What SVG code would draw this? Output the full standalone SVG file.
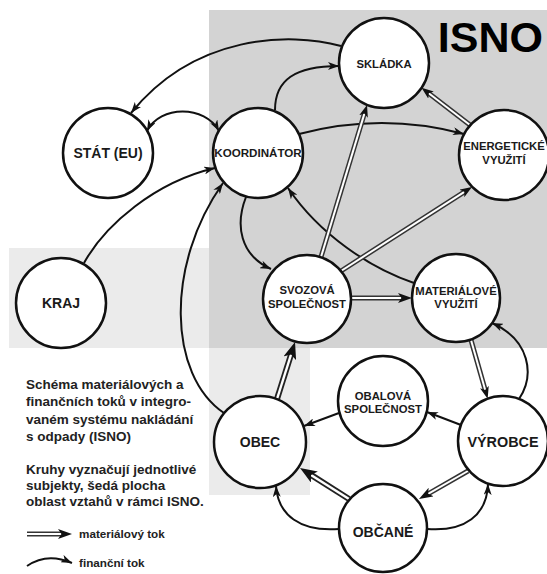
<svg xmlns="http://www.w3.org/2000/svg" width="547" height="574" viewBox="0 0 547 574">
<style>
.node circle{fill:#fff;stroke:#111;stroke-width:2.5}
.lbl{font-family:"Liberation Sans",Arial,sans-serif;font-weight:bold;fill:#1a1a1a;text-anchor:middle}
.s11{font-size:11.3px}
.s14{font-size:14px}
.fin{fill:none;stroke:#111;stroke-width:2;marker-end:url(#fa)}
.fin2{fill:none;stroke:#111;stroke-width:2;marker-start:url(#fa);marker-end:url(#fa)}
.mo{fill:none;stroke:#333;stroke-width:5}
.mob{fill:none;stroke:#222;stroke-width:6}
.mi{fill:none;stroke:#fff;stroke-width:2}
.mib{fill:none;stroke:#fff;stroke-width:2.4}
.leg{font-family:"Liberation Sans",Arial,sans-serif;font-weight:bold;fill:#222}
.p{font-size:13.5px}
.l{font-size:11.7px}
</style>
<defs>
<marker id="fa" markerUnits="userSpaceOnUse" markerWidth="12" markerHeight="8" refX="11" refY="4" orient="auto-start-reverse"><path d="M0,0 L11,4 L0,8 L3,4 z" fill="#111"/></marker>
<marker id="ms" markerUnits="userSpaceOnUse" markerWidth="13" markerHeight="9" refX="3" refY="4.5" orient="auto"><path d="M0,0 L12,4.5 L0,9 L3,4.5 z" fill="#111"/></marker>
<marker id="mm" markerUnits="userSpaceOnUse" markerWidth="15" markerHeight="10" refX="3.5" refY="5" orient="auto"><path d="M0,0 L14,5 L0,10 L3.5,5 z" fill="#111"/></marker>
<marker id="mb" markerUnits="userSpaceOnUse" markerWidth="18" markerHeight="13" refX="4" refY="6.5" orient="auto"><path d="M0,0 L17,6.5 L0,13 L4,6.5 z" fill="#111"/></marker>
</defs>

<g id="background">
<path d="M9,248 H310 V495 H209 V348 H9 Z" fill="#ebebeb"/>
<rect x="209" y="10" width="338" height="338" fill="#d3d3d3"/>
<text x="543" y="52" text-anchor="end" font-family="'Liberation Sans',Arial,sans-serif" font-weight="bold" font-size="43" fill="#000">ISNO</text>
</g>

<g id="connectors">
<!-- financial flows -->
<path class="fin" d="M341,46 C290,32 195,34 131,113"/>
<path class="fin2" d="M147,131 C160,105 205,105 219,131"/>
<path class="fin" d="M84,263 C105,225 155,182 215,168"/>
<path class="fin" d="M275,110 C275,80 295,66 339,66"/>
<path class="fin" d="M299,134 Q382,112 464,134"/>
<path class="fin" d="M246,197 C235,225 240,255 271,269"/>
<path class="fin" d="M414,283 C370,268 320,235 288,188"/>
<path class="fin" d="M224,413 C168,375 165,265 223,183"/>
<path class="fin" d="M339,413 L304,426"/>
<path class="fin" d="M461,425 L427,412"/>
<path class="fin" d="M519,399 C535,375 530,340 492,323"/>
<path class="fin" d="M339,529 C300,532 278,515 276,486"/>
<path class="fin" d="M427,529 C465,532 487,515 488,484"/>
<!-- material flows -->
<path class="mo" d="M321,257 L364.4,113.6"/><path class="mi" marker-end="url(#ms)" d="M321,257 L364.4,113.6"/>
<path class="mo" d="M470,125 L428.7,93.3"/><path class="mi" marker-end="url(#ms)" d="M470,125 L428.7,93.3"/>
<path class="mo" d="M341,271 L464.4,191.8"/><path class="mi" marker-end="url(#ms)" d="M341,271 L464.4,191.8"/>
<path class="mo" d="M351,298 L401.5,298"/><path class="mi" marker-end="url(#mm)" d="M351,298 L401.5,298"/>
<path class="mo" d="M471,340 L485.2,390"/><path class="mi" marker-end="url(#ms)" d="M471,340 L485.2,390"/>
<path class="mob" d="M277,399 L291.1,354.4"/><path class="mib" marker-end="url(#mb)" d="M277,399 L291.1,354.4"/>
<path class="mob" d="M349,499 L311,474.9"/><path class="mib" marker-end="url(#mb)" d="M349,499 L311,474.9"/>
<path class="mo" d="M468,471 L428.1,493.8"/><path class="mi" marker-end="url(#mm)" d="M468,471 L428.1,493.8"/>
</g>

<g id="skladka" class="node"><circle cx="384" cy="63" r="45"/><text class="lbl s11" x="384" y="68">SKLÁDKA</text></g>
<g id="stat" class="node"><circle cx="108" cy="153" r="45"/><text class="lbl s14" x="108" y="158">STÁT (EU)</text></g>
<g id="koordinator" class="node"><circle cx="258" cy="153" r="45"/><text class="lbl" style="font-size:11.6px" x="258" y="157">KOORDINÁTOR</text></g>
<g id="energeticke" class="node"><circle cx="504" cy="155" r="45"/><text class="lbl s11" x="504" y="150">ENERGETICKÉ</text><text class="lbl s11" x="504" y="164">VYUŽITÍ</text></g>
<g id="kraj" class="node"><circle cx="61" cy="303" r="45"/><text class="lbl s14" x="61" y="308">KRAJ</text></g>
<g id="svozova" class="node"><circle cx="307" cy="299" r="44"/><text class="lbl s11" x="307" y="294">SVOZOVÁ</text><text class="lbl s11" x="307" y="308">SPOLEČNOST</text></g>
<g id="materialove" class="node"><circle cx="456" cy="298" r="44"/><text class="lbl s11" x="456" y="295">MATERIÁLOVÉ</text><text class="lbl s11" x="456" y="308">VYUŽITÍ</text></g>
<g id="obalova" class="node"><circle cx="383" cy="401" r="45"/><text class="lbl s11" x="383" y="400">OBALOVÁ</text><text class="lbl s11" x="383" y="413">SPOLEČNOST</text></g>
<g id="obec" class="node"><circle cx="260" cy="442" r="46"/><text class="lbl s14" x="260" y="447">OBEC</text></g>
<g id="vyrobce" class="node"><circle cx="503" cy="441" r="45"/><text class="lbl" style="font-size:14.4px" x="503" y="447">VÝROBCE</text></g>
<g id="obcane" class="node"><circle cx="383" cy="528" r="44"/><text class="lbl s14" x="383" y="537">OBČANÉ</text></g>

<g id="legend">
<text class="leg p" x="26" y="389">Schéma materiálových a</text>
<text class="leg p" x="26" y="406">finančních toků v integro-</text>
<text class="leg p" x="26" y="424">vaném systému nakládání</text>
<text class="leg p" x="26" y="441">s odpady (ISNO)</text>
<text class="leg p" x="26" y="474">Kruhy vyznačují jednotlivé</text>
<text class="leg p" x="26" y="490">subjekty, šedá plocha</text>
<text class="leg p" x="26" y="506">oblast vztahů v rámci ISNO.</text>
<path class="mo" d="M27,534 L61.5,534"/><path class="mi" marker-end="url(#mm)" d="M27,534 L61.5,534"/>
<text class="leg l" x="79" y="538">materiálový tok</text>
<path class="fin" d="M27,566 Q47,552 72,563"/>
<text class="leg l" x="79" y="567">finanční tok</text>
</g>
</svg>
